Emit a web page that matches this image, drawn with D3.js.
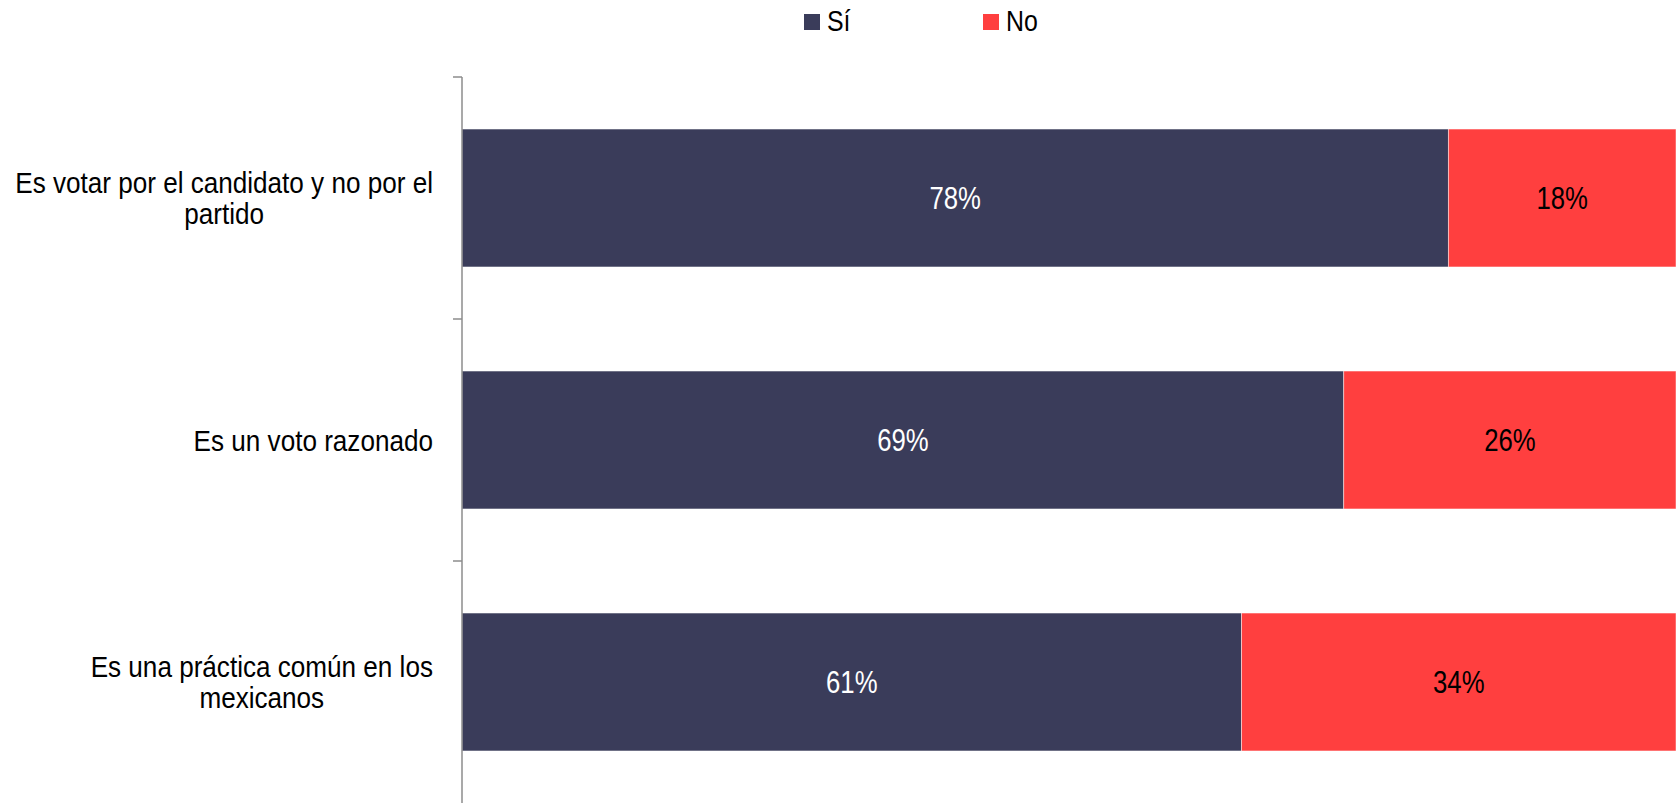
<!DOCTYPE html>
<html>
<head>
<meta charset="utf-8">
<script src="https://cdn.jsdelivr.net/npm/d3@7"></script>
<style>
  html, body { margin: 0; padding: 0; background: #fff; }
  svg text { font-family: "Liberation Sans", Arial, sans-serif; }
</style>
</head>
<body>
<svg id="chart" width="1678" height="803"></svg>
<script>
const categories = [
  "Es votar por el candidato y no por el partido",
  "Es un voto razonado",
  "Es una práctica común en los mexicanos"
];
const seriesNames = ["Sí", "No"];
const siValues = [78, 69, 61];
const noValues = [18, 26, 34];
const seriesColors = ["#3A3C5A", "#FF3F3F"];
const labelColors = ["#ffffff", "#000000"];

const rows = categories.map((c, i) => ({ cat: c, "Sí": siValues[i], "No": noValues[i] }));

const svg = d3.select("#chart");
const plotLeft = 462, plotRight = 1676, plotTop = 77, plotBottom = 803;
const NARROW = 0.83; // horizontal condensation of the text

const x = d3.scaleLinear().domain([0, 1]).range([plotLeft, plotRight]);
const y = d3.scaleBand().domain(categories).range([plotTop, plotBottom])
  .paddingInner(0.43).paddingOuter(0.215);

const stack = d3.stack().keys(seriesNames).offset(d3.stackOffsetExpand);
const stacked = stack(rows);

// bars
const layers = svg.append("g").selectAll("g").data(stacked).join("g")
  .attr("fill", (d, i) => seriesColors[i]);

layers.selectAll("rect").data(d => d).join("rect")
  .attr("x", d => x(d[0]))
  .attr("y", d => y(d.data.cat))
  .attr("width", d => x(d[1]) - x(d[0]))
  .attr("height", y.bandwidth())
  .attr("stroke", "#ffffff")
  .attr("stroke-opacity", 0.6)
  .attr("stroke-width", 0.8);

// value labels
stacked.forEach((layer, li) => {
  svg.append("g").selectAll("text").data(layer).join("text")
    .attr("transform", d => `translate(${(x(d[0]) + x(d[1])) / 2},${y(d.data.cat) + y.bandwidth() / 2}) scale(${NARROW},1)`)
    .attr("dy", "0.36em")
    .attr("text-anchor", "middle")
    .attr("font-size", 31)
    .attr("fill", labelColors[li])
    .text(d => d.data[layer.key] + "%");
});

// axis line + ticks at category boundaries
const axisG = svg.append("g");
axisG.append("line")
  .attr("x1", plotLeft).attr("x2", plotLeft)
  .attr("y1", plotTop).attr("y2", plotBottom)
  .attr("stroke", "#8c8c8c").attr("stroke-width", 1.5);
const step = y.step();
const boundaries = categories.map(c => y(c) - step * y.paddingInner() / 2);
axisG.selectAll("line.tick").data(boundaries).join("line")
  .attr("class", "tick")
  .attr("x1", plotLeft - 9).attr("x2", plotLeft)
  .attr("y1", d => d).attr("y2", d => d)
  .attr("stroke", "#8c8c8c").attr("stroke-width", 1.5);

// category labels (wrapped, centered block, right-aligned)
const catFont = 30, catScale = 0.87;
const maxW = 428, labelRight = 433, lineH = 31;
categories.forEach(c => {
  const g = svg.append("g");
  const words = c.split(" ");
  const lines = [];
  let cur = [];
  const probe = g.append("text").attr("font-size", catFont);
  const widthOf = s => { probe.text(s); return probe.node().getComputedTextLength() * catScale; };
  words.forEach(w => {
    const test = cur.concat([w]).join(" ");
    if (widthOf(test) > maxW && cur.length) {
      lines.push(cur.join(" "));
      cur = [w];
    } else {
      cur.push(w);
    }
  });
  if (cur.length) lines.push(cur.join(" "));
  const widest = d3.max(lines, l => widthOf(l));
  probe.remove();
  const cx = labelRight - widest / 2;
  const cy = y(c) + y.bandwidth() / 2;
  const y0 = cy - (lines.length - 1) * lineH / 2;
  g.selectAll("text").data(lines).join("text")
    .attr("transform", (d, i) => `translate(${cx},${y0 + i * lineH}) scale(${catScale},1)`)
    .attr("dy", "0.36em")
    .attr("text-anchor", "middle")
    .attr("font-size", catFont)
    .attr("fill", "#000")
    .text(d => d);
});

// legend
const legendX = [804, 983];
const legend = svg.append("g");
seriesNames.forEach((s, i) => {
  legend.append("rect")
    .attr("x", legendX[i]).attr("y", 14)
    .attr("width", 16).attr("height", 16)
    .attr("fill", seriesColors[i]);
  legend.append("text")
    .attr("transform", `translate(${legendX[i] + 23},31) scale(${NARROW},1)`)
    .attr("font-size", 30)
    .attr("fill", "#000")
    .text(s);
});
</script>
</body>
</html>
